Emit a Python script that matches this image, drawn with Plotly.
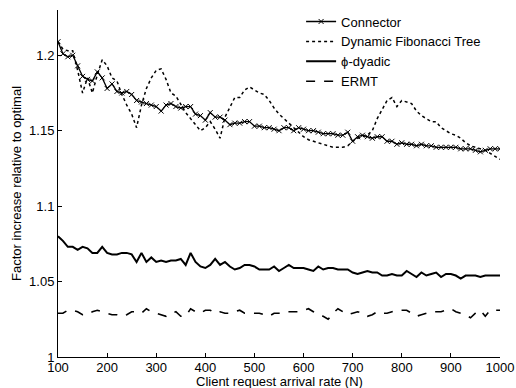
import plotly.graph_objects as go

x_rate = list(range(100, 1001, 10))

connector = [1.209, 1.201, 1.199, 1.200, 1.193, 1.186, 1.184, 1.183, 1.189, 1.185,
             1.178, 1.181, 1.176, 1.175, 1.176, 1.174, 1.170, 1.169, 1.168, 1.167,
             1.166, 1.163, 1.167, 1.168, 1.166, 1.165, 1.166, 1.166, 1.161, 1.160,
             1.157, 1.162, 1.159, 1.159, 1.157, 1.154, 1.155, 1.155, 1.156, 1.156,
             1.153, 1.153, 1.152, 1.152, 1.151, 1.150, 1.152, 1.152, 1.150, 1.152,
             1.151, 1.150, 1.150, 1.149, 1.148, 1.148, 1.148, 1.147, 1.147, 1.149,
             1.143, 1.146, 1.147, 1.146, 1.145, 1.146, 1.146, 1.143, 1.143, 1.141,
             1.142, 1.141, 1.141, 1.140, 1.141, 1.140, 1.140, 1.139, 1.139, 1.139,
             1.139, 1.139, 1.138, 1.138, 1.138, 1.137, 1.136, 1.137, 1.138, 1.138,
             1.138]

fibonacci = [1.209, 1.204, 1.203, 1.203, 1.190, 1.175, 1.185, 1.175, 1.187, 1.197,
             1.193, 1.185, 1.183, 1.174, 1.167, 1.161, 1.152, 1.167, 1.178, 1.185,
             1.190, 1.191, 1.184, 1.175, 1.173, 1.167, 1.162, 1.158, 1.154, 1.150,
             1.152, 1.156, 1.151, 1.145, 1.159, 1.165, 1.172, 1.172, 1.177, 1.179,
             1.177, 1.175, 1.174, 1.170, 1.165, 1.161, 1.158, 1.155, 1.152, 1.149,
             1.146, 1.144, 1.143, 1.142, 1.141, 1.140, 1.139, 1.139, 1.139, 1.140,
             1.143, 1.145, 1.146, 1.147, 1.150, 1.158, 1.164, 1.170, 1.172, 1.166,
             1.170, 1.169, 1.168, 1.163, 1.160, 1.158, 1.156, 1.156, 1.152, 1.150,
             1.148, 1.147, 1.145, 1.142, 1.140, 1.139, 1.138, 1.137, 1.135, 1.133,
             1.131]

phi_dyadic = [1.080, 1.077, 1.073, 1.073, 1.071, 1.073, 1.072, 1.069, 1.069, 1.073,
              1.069, 1.068, 1.068, 1.069, 1.069, 1.068, 1.063, 1.069, 1.063, 1.066,
              1.063, 1.064, 1.063, 1.064, 1.064, 1.065, 1.061, 1.069, 1.063, 1.060,
              1.059, 1.061, 1.065, 1.061, 1.063, 1.060, 1.058, 1.059, 1.061, 1.061,
              1.060, 1.058, 1.058, 1.058, 1.060, 1.057, 1.059, 1.061, 1.059, 1.059,
              1.059, 1.058, 1.057, 1.060, 1.058, 1.059, 1.059, 1.058, 1.058, 1.058,
              1.056, 1.055, 1.056, 1.057, 1.056, 1.056, 1.054, 1.054, 1.055, 1.054,
              1.054, 1.057, 1.055, 1.053, 1.056, 1.054, 1.055, 1.056, 1.053, 1.055,
              1.055, 1.054, 1.052, 1.054, 1.054, 1.054, 1.053, 1.054, 1.054, 1.054,
              1.054]

ermt = [1.029, 1.029, 1.031, 1.031, 1.030, 1.028, 1.028, 1.030, 1.031, 1.030,
        1.029, 1.028, 1.028, 1.027, 1.028, 1.030, 1.030, 1.029, 1.032, 1.030,
        1.029, 1.028, 1.027, 1.029, 1.030, 1.027, 1.027, 1.032, 1.030, 1.029,
        1.031, 1.031, 1.029, 1.030, 1.029, 1.029, 1.030, 1.031, 1.029, 1.029,
        1.029, 1.029, 1.028, 1.027, 1.029, 1.029, 1.030, 1.030, 1.030, 1.030,
        1.031, 1.032, 1.030, 1.028, 1.027, 1.025, 1.029, 1.032, 1.030, 1.028,
        1.029, 1.030, 1.029, 1.027, 1.028, 1.030, 1.029, 1.029, 1.030, 1.031,
        1.031, 1.031, 1.029, 1.027, 1.028, 1.029, 1.030, 1.030, 1.030, 1.031,
        1.032, 1.030, 1.029, 1.028, 1.026, 1.029, 1.031, 1.027, 1.031, 1.031,
        1.031]

x_ticks = list(range(100, 1001, 100))
y_ticks = [1.0, 1.05, 1.1, 1.15, 1.2]
y_tick_text = ["1", "1.05", "1.1", "1.15", "1.2"]

FONT = "Arial, Liberation Sans, Helvetica, sans-serif"

fig = go.Figure()
fig.add_trace(go.Scatter(x=x_rate, y=connector, name="Connector", mode="lines+markers",
                         line=dict(color="black", width=1.3),
                         marker=dict(symbol="x-thin-open", size=5, color="black",
                                     line=dict(color="black", width=1))))
fig.add_trace(go.Scatter(x=x_rate, y=fibonacci, name="Dynamic Fibonacci Tree", mode="lines",
                         line=dict(color="black", width=1.5, dash="dot")))
fig.add_trace(go.Scatter(x=x_rate, y=phi_dyadic, name="ϕ-dyadic", mode="lines",
                         line=dict(color="black", width=2)))
fig.add_trace(go.Scatter(x=x_rate, y=ermt, name="ERMT", mode="lines",
                         line=dict(color="black", width=1.6, dash="dash")))

fig.update_layout(
    width=516, height=388,
    margin=dict(l=58, r=16, t=10, b=31, autoexpand=False),
    paper_bgcolor="white", plot_bgcolor="white",
    font=dict(family=FONT, size=13, color="black"),
    showlegend=True,
    legend=dict(x=0.55, y=1.01, xanchor="left", yanchor="top",
                bgcolor="rgba(0,0,0,0)", borderwidth=0,
                font=dict(family=FONT, size=13, color="black"),
                itemwidth=30, tracegroupgap=0),
    xaxis=dict(range=[100, 1000], tickvals=x_ticks, ticks="inside", ticklen=4,
               automargin=False, ticklabelstandoff=-2,
               showline=True, linecolor="black", linewidth=1, tickcolor="black",
               showgrid=False, zeroline=False),
    yaxis=dict(range=[1.0, 1.23], tickvals=y_ticks, ticktext=y_tick_text,
               ticks="inside", ticklen=4, automargin=False,
               showline=True, linecolor="black", linewidth=1, tickcolor="black",
               showgrid=False, zeroline=False,
               title=dict(text="Factor increase relative to optimal", standoff=4,
                          font=dict(family=FONT, size=13))),
    annotations=[dict(text="Client request arrival rate (N)", xref="paper", yref="paper",
                      x=0.5, y=-0.071, xanchor="center", yanchor="middle",
                      showarrow=False, font=dict(family=FONT, size=13, color="black"))],
)

fig.write_html("out.html")
